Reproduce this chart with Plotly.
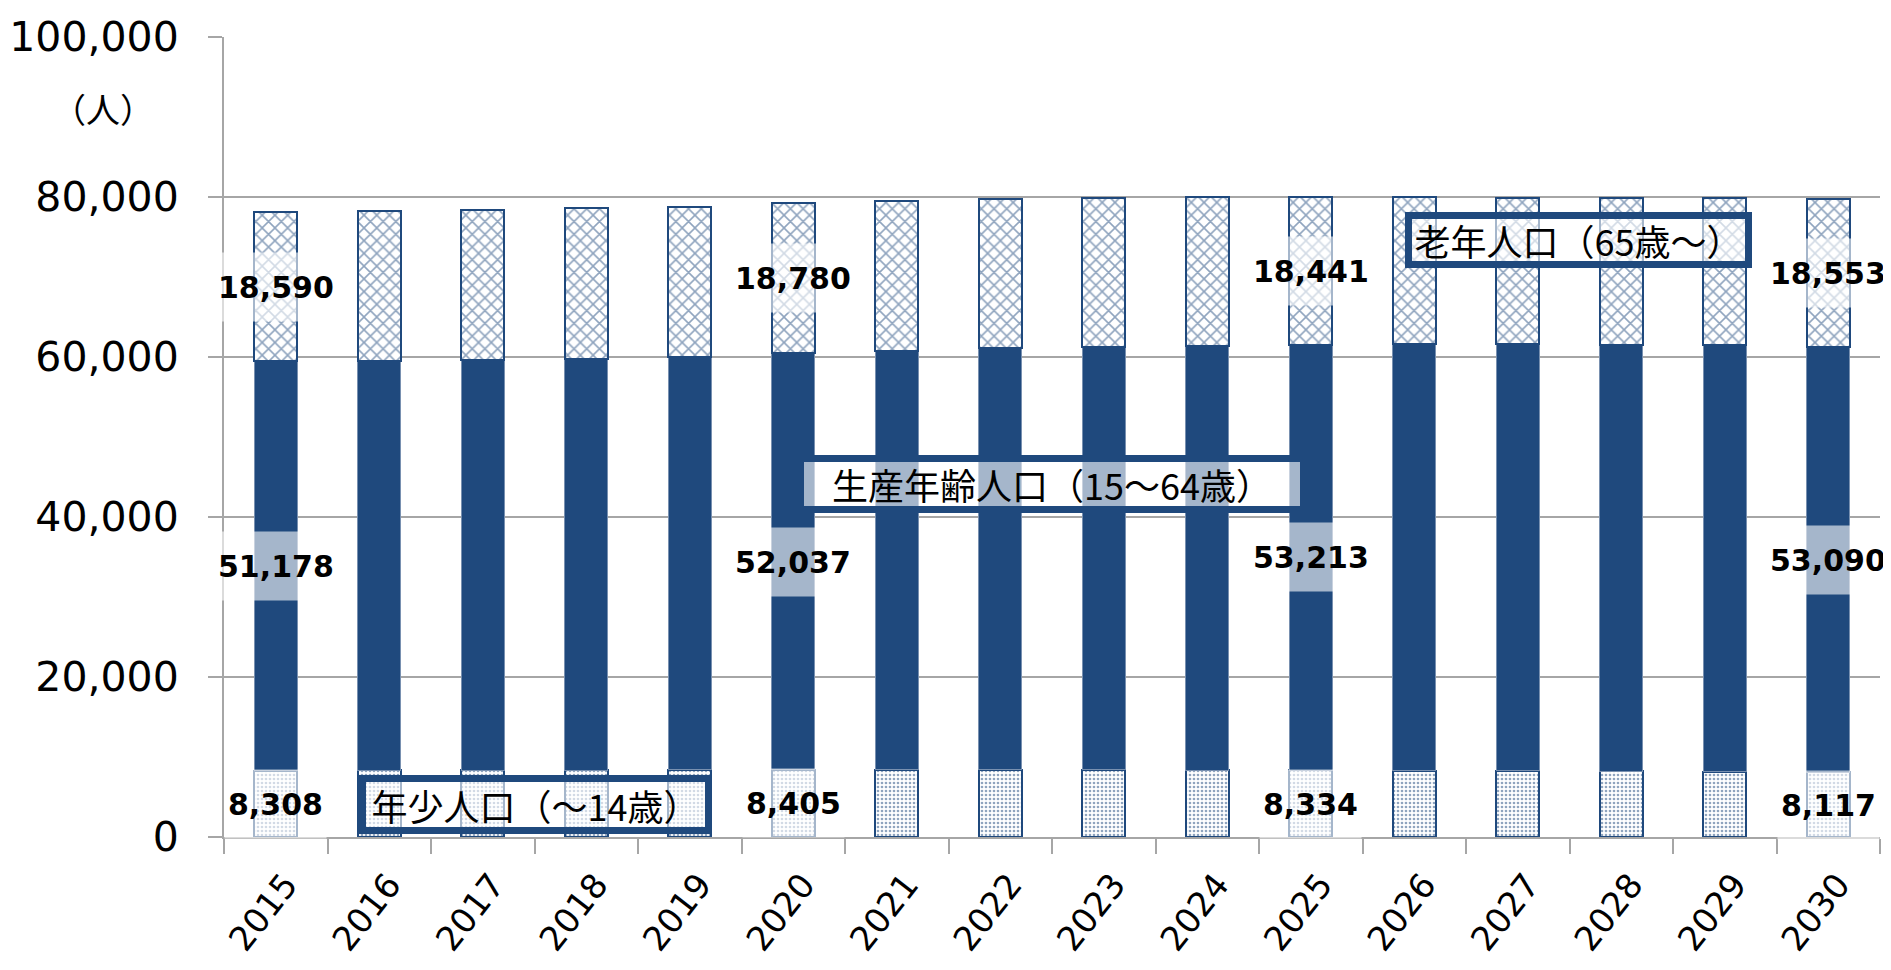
import plotly.graph_objects as go

years = list(range(2015, 2031))
young = [8308, 8330, 8350, 8370, 8390, 8405, 8400, 8390, 8380, 8360, 8334, 8300, 8260, 8210, 8160, 8117]
working = [51178, 51160, 51260, 51410, 51590, 52037, 52290, 52680, 52895, 53060, 53213, 53300, 53320, 53340, 53290, 53090]
old = [18590, 18720, 18780, 18830, 18820, 18780, 18800, 18700, 18620, 18530, 18441, 18350, 18300, 18300, 18400, 18553]
labeled_years = [2015, 2020, 2025, 2030]
y_ticks = [0, 20000, 40000, 60000, 80000, 100000]

NAVY = "#1f497d"
GRID = "#a6a6a6"

fig = go.Figure()
fig.add_trace(go.Bar(
    x=years, y=young, name="年少人口（～14歳）", width=0.42,
    marker=dict(color="white", line=dict(color=NAVY, width=2),
                pattern=dict(shape=".", fgcolor=NAVY, size=4, solidity=0.35, fillmode="overlay")),
))
fig.add_trace(go.Bar(
    x=years, y=working, name="生産年齢人口（15～64歳）", width=0.42,
    marker=dict(color=NAVY, line=dict(color="#7890b0", width=1)),
))
fig.add_trace(go.Bar(
    x=years, y=old, name="老年人口（65歳～）", width=0.42,
    marker=dict(color="white", line=dict(color=NAVY, width=2),
                pattern=dict(shape="x", fgcolor=NAVY, size=9, solidity=0.32, fillmode="overlay")),
))

annotations = []
for i, yr in enumerate(years):
    if yr not in labeled_years:
        continue
    mids = [young[i] / 2, young[i] + working[i] / 2, young[i] + working[i] + old[i] / 2]
    vals = [young[i], working[i], old[i]]
    for m, v in zip(mids, vals):
        annotations.append(dict(
            x=yr, y=m, xref="x", yref="y", text=f"<b>{v:,}</b>", showarrow=False,
            font=dict(family="DejaVu Sans", size=30, color="black"),
            bgcolor="rgba(255,255,255,0.6)", borderpad=3, height=62,
            xanchor="center", yanchor="middle",
        ))

box_font = dict(family="Noto Sans CJK JP", size=36, color="black")
for text, px, py, w, h in [
    ("年少人口（～14歳）", 0.1881, 0.0406, 341, 47),
    ("生産年齢人口（15～64歳）", 0.5, 0.44125, 498, 46),
    ("老年人口（65歳～）", 0.8179, 0.74625, 335, 44),
]:
    annotations.append(dict(
        x=px, y=py, xref="paper", yref="paper", text=text, showarrow=False,
        font=box_font, bgcolor="rgba(255,255,255,0.6)", bordercolor=NAVY,
        borderwidth=7, borderpad=0, width=w - 2, height=h - 2,
        xanchor="center", yanchor="middle", align="center",
    ))

annotations.append(dict(
    x=-0.073, y=0.911, xref="paper", yref="paper", text="（人）", showarrow=False,
    font=dict(family="Noto Sans CJK JP", size=34, color="black"),
    xanchor="center", yanchor="middle",
))

boundaries = [y - 0.5 for y in years] + [years[-1] + 0.5]

# page has an 8px body margin; size the figure to fill the rest of the window
fig.update_layout(
    barmode="stack",
    width=1883, height=962,
    margin=dict(l=216, r=11, t=29, b=133, autoexpand=False),
    paper_bgcolor="white", plot_bgcolor="white",
    showlegend=False,
    annotations=annotations,
    shapes=[dict(type="line", xref="paper", yref="paper", x0=0.1201, x1=0.1383,
                 y0=1.0452, y1=1.0452, line=dict(color="#555555", width=2))],
)
fig.update_xaxes(
    type="linear", range=[years[0] - 0.5, years[-1] + 0.5], automargin=False,
    tickvals=years, ticktext=[str(y) for y in years], tickangle=-52,
    tickfont=dict(family="DejaVu Sans", size=34, color="black"),
    showline=True, linecolor=GRID, linewidth=2,
    ticks="", showgrid=False, zeroline=False,
    ticklabelshift=10, ticklabelstandoff=12,
    minor=dict(tickvals=boundaries, ticks="outside", ticklen=15, tickcolor=GRID,
               tickwidth=2, showgrid=False),
)
fig.update_yaxes(
    range=[0, 100000], tickvals=y_ticks, tickformat=",", automargin=False,
    tickfont=dict(family="DejaVu Sans", size=41, color="black"),
    showgrid=True, gridcolor=GRID, gridwidth=2,
    showline=True, linecolor=GRID, linewidth=2,
    ticks="outside", ticklen=14, tickcolor=GRID, tickwidth=2,
    ticklabelstandoff=21, zeroline=False,
)

fig.write_html("out.html")
